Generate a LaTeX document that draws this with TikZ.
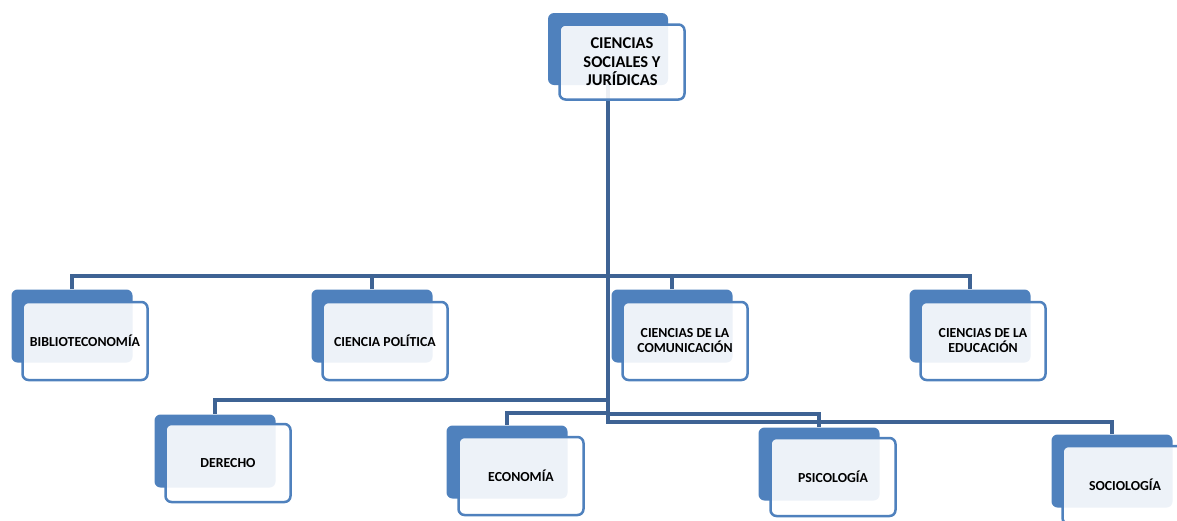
\documentclass[tikz,border=0pt]{standalone}
\usepackage{fontspec}
\setmainfont{Carlito}
\usetikzlibrary{
  calc,
  positioning
}
\definecolor{boxblue}{RGB}{79,129,189}
\definecolor{linkblue}{RGB}{62,99,148}
\tikzset{
  % For the solid blue cards lying behind the labels.
  back/.style={
    fill=boxblue,
    rounded corners=6pt,
    inner sep=0pt,
    minimum width=121pt,
    minimum height=73pt},
%
  % For the pale, nearly opaque cards that carry the labels.
  front/.style={
    draw=boxblue,
    line width=2.5pt,
    fill=white,
    fill opacity=0.9,
    text opacity=1,
    rounded corners=6pt,
    inner sep=0pt,
    minimum width=125pt,
    minimum height=78pt,
    align=center,
    font=\fontsize{13.8}{15}\selectfont\bfseries},
%
  % The root card is a little shorter and has larger type.
  root/.style={
    font=\fontsize{16.5}{18.5}\selectfont\bfseries},
%
  % For the elbow connectors.
  link/.style={
    draw=linkblue,
    line width=4pt}
}

\begin{document}
\begin{tikzpicture}[x=1pt, y=-1pt]
  \useasboundingbox (0,0) rectangle (1177,520);

  \node[back, minimum width=120pt, minimum height=72pt] (top) at (608,49) {};

  \node[back] (bib) at (72,326) {};
  \node[back] (pol) at (372,326) {};
  \node[back] (com) at (672,326) {};
  \node[back] (edu) at (970,326) {};

  \node[back] (der) at (215,451) {};
  \node[back] (eco) at (507,462) {};
  \node[back] (psi) at (819,464) {};
  \node[back] (soc) at (1112,471) {};

  % Junctions on the trunk.
  \coordinate (row bus) at (608,276);
  \coordinate (der fork) at (608,400);
  \coordinate (eco fork) at (608,413);
  \coordinate (psi fork) at (608,414);
  \coordinate (soc fork) at (608,422);

  \draw[link] (top.south) -- (soc fork) -| (soc.north);
  \draw[link] (row bus) -| (bib.north);
  \draw[link] (row bus) -| (pol.north);
  \draw[link] (row bus) -| (com.north);
  \draw[link] (row bus) -| (edu.north);
  \draw[link] (der fork) -| (der.north);
  \draw[link] (eco fork) -| (eco.north);
  \draw[link] (psi fork) -| (psi.north);

  \node[front, root, minimum height=75pt] (top label) at ($(top)+(14,13)$)
       {CIENCIAS\\SOCIALES Y\\JURÍDICAS};

  \node[front] (bib label) at ($(bib)+(13,15)$) {BIBLIOTECONOMÍA};
  \node[front] (pol label) at ($(pol)+(13,15)$) {CIENCIA POLÍTICA};
  \node[front] (com label) at ($(com)+(13,15)$) {CIENCIAS DE LA\\COMUNICACIÓN};
  \node[front] (edu label) at ($(edu)+(13,15)$) {CIENCIAS DE LA\\EDUCACIÓN};

  \node[front] (der label) at ($(der)+(13,12)$) {DERECHO};
  \node[front] (eco label) at ($(eco)+(14,14)$) {ECONOMÍA};
  \node[front] (psi label) at ($(psi)+(14,13)$) {PSICOLOGÍA};
  \node[front] (soc label) at ($(soc)+(13,14)$) {SOCIOLOGÍA};
\end{tikzpicture}
\end{document}
